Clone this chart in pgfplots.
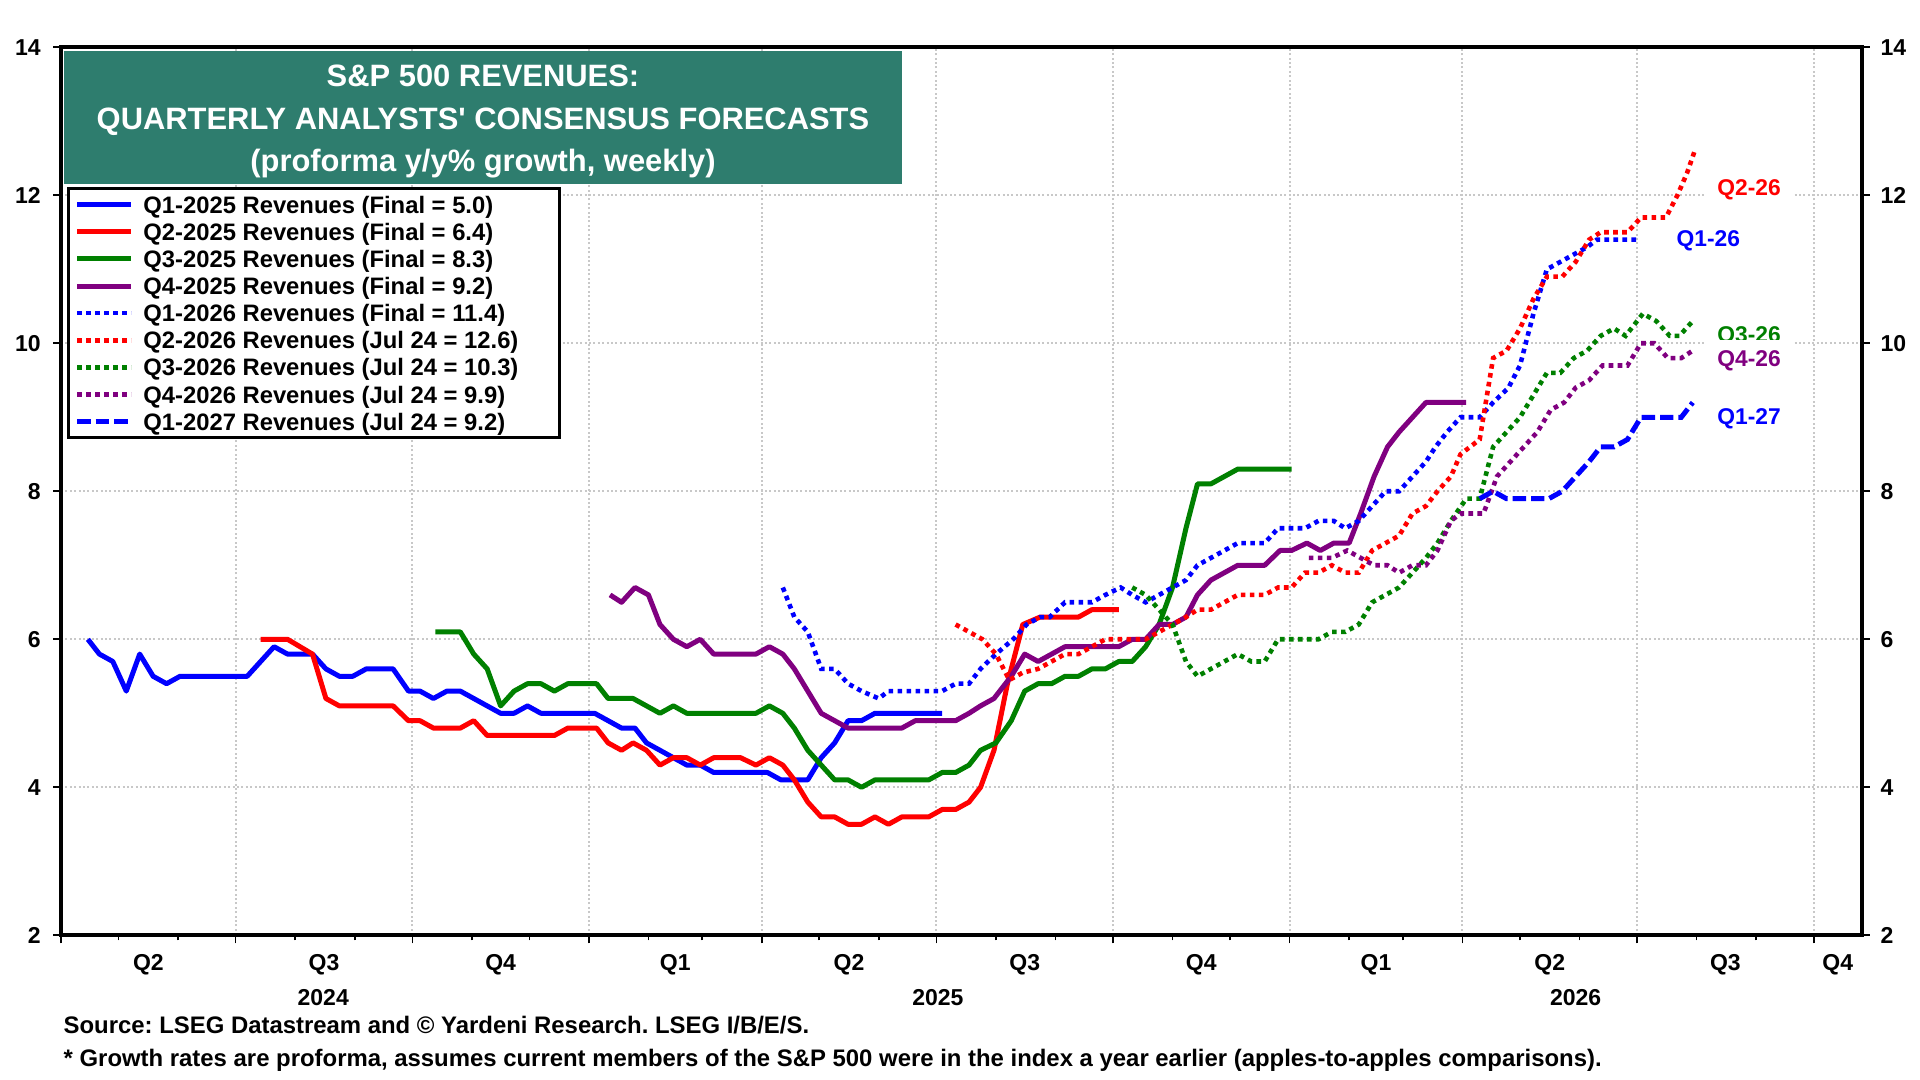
\documentclass[border=0pt]{standalone}
\usepackage{pgfplots}
\pgfplotsset{compat=1.18}
\usepackage{pgfplotstable}
\usepackage{fontspec}
\setmainfont{Liberation Sans}
\definecolor{qblue}{RGB}{0,0,255}
\definecolor{qred}{RGB}{255,0,0}
\definecolor{qgreen}{RGB}{0,128,0}
\definecolor{qpurple}{RGB}{128,0,128}
\definecolor{titlegreen}{RGB}{46,125,110}
\definecolor{gridgray}{RGB}{200,200,200}

% x = days since 1 Apr 2024, y = y/y % growth
\pgfplotstableread{
d v
14 6.0
20 5.8
27 5.7
34 5.3
41 5.8
48 5.5
55 5.4
62 5.5
97 5.5
111 5.9
118 5.8
131 5.8
138 5.6
145 5.5
152 5.5
159 5.6
173 5.6
181 5.3
187 5.3
194 5.2
201 5.3
208 5.3
215 5.2
222 5.1
229 5.0
236 5.0
243 5.1
250 5.0
278 5.0
285 4.9
292 4.8
299 4.8
305 4.6
312 4.5
319 4.4
326 4.3
333 4.3
340 4.2
368 4.2
375 4.1
389 4.1
396 4.4
403 4.6
410 4.9
417 4.9
424 5.0
459 5.0
}\qonefive

\pgfplotstableread{
d v
104 6.0
118 6.0
131 5.8
138 5.2
145 5.1
173 5.1
181 4.9
187 4.9
194 4.8
208 4.8
215 4.9
222 4.7
257 4.7
264 4.8
279 4.8
285 4.6
292 4.5
298 4.6
305 4.5
312 4.3
319 4.4
326 4.4
333 4.3
340 4.4
354 4.4
362 4.3
369 4.4
376 4.3
382 4.1
389 3.8
396 3.6
403 3.6
410 3.5
417 3.5
424 3.6
431 3.5
438 3.6
452 3.6
459 3.7
466 3.7
473 3.8
479 4.0
486 4.5
493 5.4
501 6.2
510 6.3
530 6.3
537 6.4
551 6.4
}\qtwofive

\pgfplotstableread{
d v
195 6.1
208 6.1
215 5.8
222 5.6
229 5.1
236 5.3
243 5.4
250 5.4
257 5.3
264 5.4
279 5.4
285 5.2
298 5.2
305 5.1
312 5.0
319 5.1
326 5.0
362 5.0
369 5.1
376 5.0
382 4.8
389 4.5
396 4.3
403 4.1
410 4.1
417 4.0
424 4.1
452 4.1
459 4.2
466 4.2
473 4.3
479 4.5
487 4.6
495 4.9
502 5.3
509 5.4
516 5.4
523 5.5
530 5.5
537 5.6
544 5.6
551 5.7
558 5.7
565 5.9
572 6.2
579 6.7
586 7.5
592 8.1
599 8.1
606 8.2
613 8.3
641 8.3
}\qthreefive

\pgfplotstableread{
d v
286 6.6
292 6.5
299 6.7
306 6.6
312 6.2
319 6.0
326 5.9
333 6.0
340 5.8
362 5.8
369 5.9
376 5.8
382 5.6
389 5.3
396 5.0
403 4.9
410 4.8
438 4.8
445 4.9
466 4.9
473 5.0
479 5.1
486 5.2
495 5.5
502 5.8
509 5.7
516 5.8
523 5.9
551 5.9
558 6.0
565 6.0
572 6.2
579 6.2
586 6.3
592 6.6
599 6.8
606 6.9
613 7.0
627 7.0
635 7.2
641 7.2
649 7.3
656 7.2
663 7.3
671 7.3
677 7.7
684 8.2
691 8.6
697 8.8
704 9.0
711 9.2
732 9.2
}\qfourfive

\pgfplotstableread{
d v
376 6.7
382 6.3
389 6.1
396 5.6
403 5.6
410 5.4
417 5.3
426 5.2
431 5.3
459 5.3
466 5.4
473 5.4
479 5.6
487 5.8
496 6.0
503 6.2
510 6.3
515 6.3
523 6.5
537 6.5
544 6.6
552 6.7
558 6.6
565 6.5
572 6.6
579 6.7
586 6.8
592 7.0
599 7.1
606 7.2
613 7.3
627 7.3
634 7.5
648 7.5
655 7.6
663 7.6
669 7.5
676 7.6
683 7.8
690 8.0
697 8.0
704 8.2
711 8.4
716 8.6
722 8.8
729 9.0
739 9.0
746 9.2
754 9.4
760 9.7
767 10.4
774 11.0
781 11.1
788 11.2
795 11.3
800 11.4
821 11.4
}\qonesix

\pgfplotstableread{
d v
466 6.2
473 6.1
480 6.0
487 5.8
494 5.45
501 5.55
509 5.6
516 5.7
523 5.8
530 5.8
537 5.9
544 6.0
565 6.0
572 6.1
579 6.2
586 6.3
592 6.4
599 6.4
606 6.5
613 6.6
627 6.6
634 6.7
641 6.7
648 6.9
655 6.9
662 7.0
669 6.9
676 6.9
683 7.2
690 7.3
697 7.4
704 7.7
711 7.8
717 8.0
724 8.2
729 8.5
739 8.7
746 9.8
753 9.9
760 10.2
767 10.6
774 10.9
782 10.9
789 11.1
796 11.4
802 11.5
816 11.5
823 11.7
836 11.7
842 12.0
847 12.3
851 12.6
}\qtwosix

\pgfplotstableread{
d v
558 6.7
565 6.6
572 6.4
579 6.2
586 5.7
592 5.5
599 5.6
606 5.7
613 5.8
620 5.7
627 5.7
634 6.0
655 6.0
662 6.1
669 6.1
676 6.2
683 6.5
690 6.6
697 6.7
704 6.9
711 7.1
717 7.3
724 7.6
732 7.9
739 7.9
746 8.6
753 8.8
760 9.0
767 9.3
774 9.6
781 9.6
788 9.8
795 9.9
802 10.1
809 10.2
815 10.1
824 10.4
831 10.3
838 10.1
843 10.1
850 10.3
}\qthreesix

\pgfplotstableread{
d v
650 7.1
662 7.1
670 7.2
677 7.1
684 7.0
691 7.0
697 6.9
704 7.0
711 7.0
717 7.2
724 7.6
729 7.7
741 7.7
748 8.2
755 8.4
762 8.6
769 8.8
776 9.1
783 9.2
789 9.4
796 9.5
803 9.7
816 9.7
823 10.0
830 10.0
837 9.8
844 9.8
850 9.9
}\qfoursix

\pgfplotstableread{
d v
739 7.9
746 8.0
753 7.9
775 7.9
782 8.0
789 8.2
796 8.4
802 8.6
809 8.6
816 8.7
823 9.0
844 9.0
850 9.2
}\qoneseven

\newcommand\tlab{\fontsize{11.5}{13}\selectfont\bfseries}
\frenchspacing

\begin{document}
\begin{tikzpicture}
\path[use as bounding box] (0,0) rectangle (960pt,540pt);
\begin{axis}[
  at={(30.5pt,72.35pt)}, anchor=south west,
  scale only axis, width=900.35pt, height=444pt,
  xmin=0, xmax=938, ymin=2, ymax=14,
  clip=false,
  axis line style={line width=2.2pt, black},
  tick align=outside,
  xtick pos=left,
  ytick pos=both,
  major tick length=4pt, minor tick length=2.5pt,
  every tick/.style={black, line width=0.8pt},
  xtick={0,91,183,275,365,456,548,640,730,821,913},
  xticklabels={},
  minor xtick={30,61,122,153,214,244,306,334,395,426,487,518,579,609,671,699,760,791,852,883},
  extra x ticks={45.5,137,229,320,410.5,502,594,685,775.5,867,925.5},
  extra x tick labels={Q2,Q3,Q4,Q1,Q2,Q3,Q4,Q1,Q2,Q3,Q4},
  extra x tick style={grid=none, major tick length=0pt},
  xticklabel style={anchor=base, yshift=-17.85pt, font=\tlab},
  ytick={2,4,...,14},
  yticklabel style={anchor=east, inner sep=0pt, xshift=-6pt, font=\tlab},
  /pgf/number format/assume math mode=true,
  xmajorgrids, ymajorgrids,
  major grid style={gridgray, line width=1pt, dash pattern=on 1pt off 1.2pt},
  legend cell align=left,
  legend image code/.code={\draw[#1] (0pt,0pt) -- (27pt,0pt);},
  legend style={at={(axis description cs:0.00355,0.8425)}, anchor=north west,
    draw=black, line width=1.4pt, fill=white,
    inner xsep=3pt, inner ysep=3.8pt, row sep=4.95pt, column sep=4.8pt,
    font=\fontsize{11.9}{13}\selectfont\bfseries,
    nodes={inner sep=0pt, text height=8.6pt, text depth=0pt}},
  solidq/.style={line width=2.5pt, line join=round},
  dotq/.style={line width=2.3pt, dash pattern=on 2.3pt off 2.2pt},
  dashq/.style={line width=2.5pt, dash pattern=on 6.7pt off 2.5pt},
]
\addplot[solidq, qblue] table[x=d,y=v] {\qonefive};
\addlegendentry{\makebox[205pt][l]{Q1-2025 Revenues (Final = 5.0)}}
\addplot[solidq, qred] table[x=d,y=v] {\qtwofive};
\addlegendentry{Q2-2025 Revenues (Final = 6.4)}
\addplot[solidq, qgreen] table[x=d,y=v] {\qthreefive};
\addlegendentry{Q3-2025 Revenues (Final = 8.3)}
\addplot[solidq, qpurple] table[x=d,y=v] {\qfourfive};
\addlegendentry{Q4-2025 Revenues (Final = 9.2)}
\addplot[dotq, qblue] table[x=d,y=v] {\qonesix};
\addlegendentry{Q1-2026 Revenues (Final = 11.4)}
\addplot[dotq, qred] table[x=d,y=v] {\qtwosix};
\addlegendentry{Q2-2026 Revenues (Jul 24 = 12.6)}
\addplot[dotq, qgreen] table[x=d,y=v] {\qthreesix};
\addlegendentry{Q3-2026 Revenues (Jul 24 = 10.3)}
\addplot[dotq, qpurple] table[x=d,y=v] {\qfoursix};
\addlegendentry{Q4-2026 Revenues (Jul 24 = 9.9)}
\addplot[dashq, qblue] table[x=d,y=v] {\qoneseven};
\addlegendentry{Q1-2027 Revenues (Jul 24 = 9.2)}

\begin{scope}[every node/.style={fill=white, inner xsep=6pt, inner ysep=5pt, text depth=0pt,
   font=\fontsize{11.4}{13}\selectfont\bfseries}]
\node[text=qred] at (axis cs:879.3,12.11) {Q2-26};
\node[text=qblue] at (axis cs:858.1,11.42) {Q1-26};
\node[text=qgreen] at (axis cs:879.3,10.12) {Q3-26};
\node[text=qpurple] at (axis cs:879.3,9.80) {Q4-26};
\node[text=qblue] at (axis cs:879.3,9.01) {Q1-27};
\end{scope}
\begin{scope}[every node/.style={anchor=base, inner sep=0pt, font=\tlab, yshift=-35.35pt}]
\node at (axis cs:136.6,2) {2024};
\node at (axis cs:456.8,2) {2025};
\node at (axis cs:789,2) {2026};
\end{scope}
\end{axis}
% right-hand tick labels
\begin{axis}[
  at={(30.5pt,72.35pt)}, anchor=south west,
  scale only axis, width=900.35pt, height=444pt,
  xmin=0, xmax=938, ymin=2, ymax=14,
  hide x axis,
  axis y line*=right,
  y axis line style={draw=none},
  major tick length=0pt,
  ytick={2,4,...,14},
  yticklabel style={anchor=west, inner sep=0pt, xshift=9.2pt, font=\tlab},
  /pgf/number format/assume math mode=true,
]
\addplot[draw=none] coordinates {(0,2) (938,14)};
\end{axis}
\fill[titlegreen] (31.8pt,448.2pt) rectangle (451.2pt,514.3pt);
\node[text=white, inner sep=0pt, align=center, font=\fontsize{15.45}{21.2}\selectfont\bfseries]
  at (241.5pt,479.1pt)
  {S\&P 500 REVENUES:\\QUARTERLY ANALYSTS\textquotesingle{} CONSENSUS FORECASTS\\(proforma y/y\% growth, weekly)};
\node[anchor=base west, inner sep=0pt, font=\fontsize{11.95}{13}\selectfont\bfseries]
  at (31.65pt,23pt) {Source: LSEG Datastream and \textcopyright{} Yardeni Research. LSEG I/B/E/S.};
\node[anchor=base west, inner sep=0pt, font=\fontsize{11.95}{13}\selectfont\bfseries]
  at (31.65pt,6.65pt) {* Growth rates are proforma, assumes current members of the S\&P 500 were in the index a year earlier (apples-to-apples comparisons).};
\end{tikzpicture}
\end{document}
